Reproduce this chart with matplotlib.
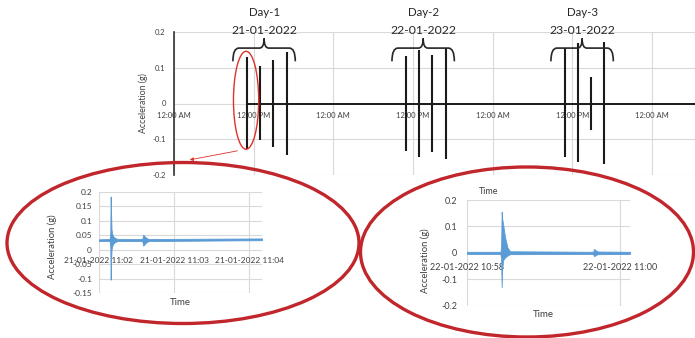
import matplotlib
matplotlib.use("Agg")
import matplotlib.pyplot as plt
from matplotlib.patches import Ellipse, PathPatch
from matplotlib.path import Path

plt.rcParams['font.family'] = ['Lato', 'DejaVu Sans']

# ---------------- data ----------------
# main chart: hours since 21-01-2022 00:00
event_hours = [10.96, 12.96, 14.97, 16.99,
               34.92, 36.93, 38.89, 40.96,
               58.93, 60.85, 62.85, 64.85]
event_peak = [0.130, 0.105, 0.121, 0.144,
              0.133, 0.149, 0.137, 0.156,
              0.154, 0.170, 0.074, 0.172]
event_trough = [-0.126, -0.103, -0.121, -0.145,
                -0.133, -0.149, -0.137, -0.156,
                -0.151, -0.165, -0.075, -0.170]
event_day = [0, 0, 0, 0, 1, 1, 1, 1, 2, 2, 2, 2]
record_end_hour = 80.0
day_names = ["Day-1", "Day-2", "Day-3"]
day_dates = ["21-01-2022", "22-01-2022", "23-01-2022"]
main_ticks = [0, 12, 24, 36, 48, 60, 72]
main_tick_labels = ["12:00 AM", "12:00 PM", "12:00 AM", "12:00 PM",
                    "12:00 AM", "12:00 PM", "12:00 AM"]
main_yticks = [-0.2, -0.1, 0, 0.1, 0.2]
main_ytick_labels = ["-0.2", "-0.1", "0", "0.1", "0.2"]

# left inset: seconds after 21-01-2022 11:02:00 (signal envelope)
left_t = [0, 8.5, 9.0, 9.3, 9.6, 10.0, 10.5, 11.5, 13, 15,
          34.5, 35.3, 36.5, 38, 40, 130]
left_hi = [0.036, 0.037, 0.060, 0.183, 0.130, 0.070, 0.055, 0.045, 0.040, 0.037,
           0.037, 0.052, 0.046, 0.040, 0.037, 0.039]
left_lo = [0.030, 0.030, 0.010, -0.103, -0.040, 0.000, 0.012, 0.022, 0.027, 0.030,
           0.030, 0.014, 0.020, 0.027, 0.030, 0.033]
left_xticks = [0, 60, 120]
left_xtick_labels = ["21-01-2022 11:02", "21-01-2022 11:03", "21-01-2022 11:04"]
left_yticks = [-0.15, -0.1, -0.05, 0, 0.05, 0.1, 0.15, 0.2]
left_ytick_labels = ["-0.15", "-0.1", "-0.05", "0", "0.05", "0.1", "0.15", "0.2"]

# right inset: seconds after 22-01-2022 10:58:00 (signal envelope)
right_t = [0, 26.5, 27.0, 27.4, 27.8, 28.3, 28.8, 30, 32, 34,
           99, 100, 101, 103, 128]
right_hi = [0.004, 0.004, 0.030, 0.155, 0.130, 0.115, 0.100, 0.060, 0.020, 0.006,
            0.004, 0.015, 0.010, 0.005, 0.004]
right_lo = [-0.004, -0.004, -0.030, -0.130, -0.060, -0.035, -0.025, -0.018, -0.010, -0.005,
            -0.004, -0.013, -0.008, -0.005, -0.004]
right_xticks = [0, 120]
right_xtick_labels = ["22-01-2022 10:58", "22-01-2022 11:00"]
right_yticks = [-0.2, -0.1, 0, 0.1, 0.2]
right_ytick_labels = ["-0.2", "-0.1", "0", "0.1", "0.2"]

# ---------------- figure ----------------
W, H = 695, 338
fig = plt.figure(figsize=(W / 100, H / 100), dpi=100)
fig.patch.set_facecolor("white")

TXT = "#404040"
GRID = "#d9d9d9"
BLUE = "#5b9bd5"


def px_axes(x0, y_top, x1, y_bot, **kw):
    return fig.add_axes([x0 / W, 1 - y_bot / H, (x1 - x0) / W, (y_bot - y_top) / H], **kw)


def style_axes(ax, xpad, ypad, size):
    for s in ("top", "right"):
        ax.spines[s].set_visible(False)
    ax.spines["bottom"].set_position(("data", 0))
    ax.spines["bottom"].set_visible(False)
    ax.tick_params(length=0, labelsize=size, colors=TXT)
    ax.tick_params(axis="x", pad=xpad)
    ax.tick_params(axis="y", pad=ypad)
    ax.grid(True, color=GRID, lw=0.8)
    ax.set_axisbelow(True)
    ax.patch.set_alpha(0)


# ---- main chart ----
ax = px_axes(174, 32, 695, 175)
style_axes(ax, 6, 6, 5.5)
ax.spines["left"].set_color("#333333")
ax.spines["left"].set_linewidth(1.2)
ax.set_xlim(0, 78.5)
ax.set_ylim(-0.2, 0.2)
ax.set_xticks(main_ticks)
ax.set_xticklabels(main_tick_labels)
ax.set_yticks(main_yticks)
ax.set_yticklabels(main_ytick_labels)
ax.plot([event_hours[0], record_end_hour], [0, 0], color="#1a1a1a", lw=1.4, zorder=3)
ax.vlines(event_hours, event_trough, event_peak, color="#1a1a1a", lw=1.5, zorder=3)
ax.set_ylabel("Acceleration (g)", fontsize=6.3, color=TXT)
ax.yaxis.set_label_coords(-0.06, 0.5)
ax.yaxis.label.set_verticalalignment("center")
ax.set_xlabel("Time", fontsize=6.5, color=TXT)
ax.xaxis.set_label_coords(0.603, -0.085)

# day annotations with curly braces
for d in range(len(day_names)):
    hrs = [h for h, dd in zip(event_hours, event_day) if dd == d]
    c = (min(hrs) + max(hrs)) / 2 - 0.4
    half = 4.7
    yb, ym, yt = 0.118, 0.155, 0.182
    verts = [(c - half, yb), (c - half, ym), (c - half + 0.9, ym),
             (c - 0.7, ym), (c, ym), (c, yt),
             (c, ym), (c + 0.7, ym),
             (c + half - 0.9, ym), (c + half, ym), (c + half, yb)]
    codes = [Path.MOVETO, Path.CURVE3, Path.CURVE3,
             Path.LINETO, Path.CURVE3, Path.CURVE3,
             Path.CURVE3, Path.CURVE3,
             Path.LINETO, Path.CURVE3, Path.CURVE3]
    ax.add_patch(PathPatch(Path(verts, codes), fill=False, ec="#262626", lw=1.2,
                           clip_on=False, zorder=4))
    ax.text(c, 0.205, day_dates[d], ha="center", va="center", fontsize=8.8,
            color="#262626", clip_on=False)
    ax.text(c, 0.254, day_names[d], ha="center", va="center", fontsize=8.3,
            color="#262626", clip_on=False)

# highlight of first event
ax.add_patch(Ellipse((event_hours[0] - 0.1, 0.009), width=3.8, height=0.274,
                     fill=False, ec="#e0302a", lw=1.0, clip_on=False, zorder=5))
ax.annotate("", xy=(event_hours[0] - 9.0, -0.159), xytext=(event_hours[0] - 1.0, -0.131),
            arrowprops=dict(arrowstyle="-|>", color="#e0302a", lw=0.6, mutation_scale=5),
            annotation_clip=False, zorder=5)

# ---- left inset ----
axl = px_axes(99, 191.7, 262, 293.3)
style_axes(axl, 5.5, 5, 6)
axl.spines["left"].set_visible(False)
axl.set_xlim(0, 130)
axl.set_ylim(-0.15, 0.2)
axl.set_xticks(left_xticks)
axl.set_xticklabels(left_xtick_labels)
axl.set_yticks(left_yticks)
axl.set_yticklabels(left_ytick_labels)
axl.fill_between(left_t, left_lo, left_hi, color=BLUE, ec=BLUE, lw=0.6, zorder=3)
axl.set_ylabel("Acceleration (g)", fontsize=6.8, color=TXT)
axl.yaxis.set_label_coords(-0.288, 0.456)
axl.yaxis.label.set_verticalalignment("center")
axl.set_xlabel("Time", fontsize=7, color=TXT)
axl.xaxis.set_label_coords(0.5, -0.05)

# ---- right inset ----
axr = px_axes(466.7, 200, 630, 305.7)
style_axes(axr, 7, 7, 6.5)
axr.spines["left"].set_visible(False)
axr.set_xlim(0, 128)
axr.set_ylim(-0.2, 0.2)
axr.set_xticks(right_xticks)
axr.set_xticklabels(right_xtick_labels)
axr.set_yticks(right_yticks)
axr.set_yticklabels(right_ytick_labels)
axr.fill_between(right_t, right_lo, right_hi, color=BLUE, ec=BLUE, lw=0.6, zorder=3)
axr.set_ylabel("Acceleration (g)", fontsize=6.8, color=TXT)
axr.yaxis.set_label_coords(-0.255, 0.43)
axr.yaxis.label.set_verticalalignment("center")
axr.set_xlabel("Time", fontsize=7, color=TXT)
axr.xaxis.set_label_coords(0.467, -0.045)

# ---- overlay with the large zoom ellipses ----
axo = fig.add_axes([0, 0, 1, 1], zorder=10)
axo.set_xlim(0, W)
axo.set_ylim(H, 0)
axo.axis("off")
axo.patch.set_alpha(0)
axo.add_patch(Ellipse((183, 243), 352, 161, fill=False, ec="#c0262b", lw=2.4))
axo.add_patch(Ellipse((527, 252), 333, 170, fill=False, ec="#c0262b", lw=2.4))

fig.savefig("out.png", dpi=100)
